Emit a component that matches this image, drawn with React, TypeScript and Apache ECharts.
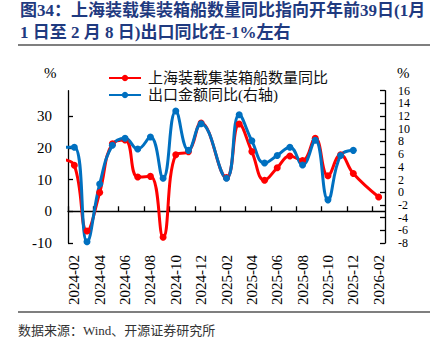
import React, { useEffect, useRef } from "react";
import * as echarts from "echarts";

// Months (2024-01 = index 0); nulls = not reported (Jan merged into Feb)
const months = [
  "2024-01", "2024-02", "2024-03", "2024-04", "2024-05", "2024-06", "2024-07", "2024-08", "2024-09", "2024-10", "2024-11", "2024-12",
  "2025-01", "2025-02", "2025-03", "2025-04", "2025-05", "2025-06", "2025-07", "2025-08", "2025-09", "2025-10", "2025-11", "2025-12",
  "2026-01", "2026-02",
];
// 上海装载集装箱船数量同比 (%, left axis)
const shipCountYoY = [
  16.3, 14.5, -6.2, 5.9, 21.3, 22.5, 10.8, 11.0, -8.2, 17.8, 18.8, 27.8,
  null, 10.6, 27.5, 18.8, 9.8, 13.7, 17.4, 16.0, 23.0, 11.2, 17.8, 11.9,
  null, 4.5,
];
// 出口金额同比 (%, right axis)
const exportYoY = [
  7.1, 7.1, -7.8, 1.3, 7.4, 8.5, 6.8, 8.7, 2.2, 12.8, 6.6, 10.8,
  null, 2.2, 12.2, 8.1, 4.6, 5.8, 7.1, 4.3, 8.2, -1.2, 5.8, 6.6,
  null, null,
];
const xTickLabels = [
  "2024-02", "2024-04", "2024-06", "2024-08", "2024-10", "2024-12",
  "2025-02", "2025-04", "2025-06", "2025-08", "2025-10", "2025-12", "2026-02",
];
const leftTicks = [-10, 0, 10, 20, 30];
const rightTicks = [-8, -6, -4, -2, 0, 2, 4, 6, 8, 10, 12, 14, 16];
const seriesNames = ["上海装载集装箱船数量同比", "出口金额同比(右轴)"];
const titleLines = [
  "图34：上海装载集装箱船数量同比指向开年前39日(1月",
  "1 日至 2 月 8 日)出口同比在-1%左右",
];
const sourceText = "数据来源：Wind、开源证券研究所";

const monthIndex = (s: string) => {
  const [y, m] = s.split("-").map(Number);
  return (y - 2024) * 12 + (m - 1);
};
const toPairs = (vals: (number | null)[]) =>
  months
    .map((m, i) => [monthIndex(m), vals[i]] as [number, number | null])
    .filter((p) => p[1] !== null);

const FONT = "'Liberation Serif', 'Noto Sans CJK SC', serif";
const X_MIN = 0.5;
const X_MAX = 25.5;

export default function App() {
  const ref = useRef<HTMLDivElement>(null);
  useEffect(() => {
    if (!ref.current) return;
    const chart = echarts.init(ref.current, null, { renderer: "svg" });
    const labelVals = xTickLabels.map(monthIndex);
    const tickVals = labelVals.map((v) => v - 0.5);
    const labelMap: Record<number, string> = {};
    xTickLabels.forEach((l) => (labelMap[monthIndex(l)] = l));
    const staticGraphics: any[] = [
      {
        type: "text",
        left: 20,
        top: 2,
        style: { text: titleLines[0], fontSize: 17, fontWeight: "bold", fill: "#1f3a80", fontFamily: FONT },
      },
      {
        type: "text",
        left: 20,
        top: 24,
        style: { text: titleLines[1], fontSize: 17, fontWeight: "bold", fill: "#1f3a80", fontFamily: FONT },
      },
      {
        type: "line",
        shape: { x1: 18, y1: 45, x2: 430, y2: 45 },
        style: { stroke: "#555", lineWidth: 1.5 },
      },
      {
        type: "text",
        left: 44,
        top: 65,
        style: { text: "%", fontSize: 15, fill: "#000", fontFamily: FONT },
      },
      {
        type: "text",
        left: 397,
        top: 65,
        style: { text: "%", fontSize: 15, fill: "#000", fontFamily: FONT },
      },
      {
        type: "line",
        shape: { x1: 18, y1: 312, x2: 430, y2: 312 },
        style: { stroke: "#555", lineWidth: 1.3 },
      },
      {
        type: "text",
        left: 18,
        top: 324,
        style: { text: sourceText, fontSize: 13, fill: "#333", fontFamily: FONT },
      },
    ];
    chart.setOption({
      animation: false,
      grid: { left: 68, right: 48, top: 90.7, bottom: 109 },
      legend: {
        orient: "vertical",
        left: 103,
        top: 65,
        itemWidth: 32,
        itemHeight: 8,
        itemGap: 1,
        textStyle: { fontSize: 15, fontFamily: FONT, color: "#111", lineHeight: 16, padding: [0, 0, 0, 2] },
        data: seriesNames,
      },
      xAxis: [
        {
          type: "value",
          min: X_MIN,
          max: X_MAX,
          position: "bottom",
          axisLine: { show: false, onZero: false },
          axisTick: { show: false },
          splitLine: { show: false },
          axisLabel: {
            customValues: labelVals,
            rotate: 90,
            margin: 12,
            fontSize: 15,
            fontFamily: FONT,
            color: "#000",
            formatter: (v: number) => labelMap[Math.round(v)] ?? "",
          },
        },
        {
          type: "value",
          min: X_MIN,
          max: X_MAX,
          position: "bottom",
          axisLine: { show: true, onZero: true, onZeroAxisIndex: 0, lineStyle: { color: "#000", width: 1.3 } },
          axisTick: { show: true, inside: true, length: 5, customValues: tickVals, lineStyle: { color: "#000", width: 1.3 } },
          axisLabel: { show: false },
          splitLine: { show: false },
        },
      ],
      yAxis: [
        {
          type: "value",
          min: -10,
          max: 38,
          position: "left",
          axisLine: { show: true, onZero: false, lineStyle: { color: "#000", width: 1.3 } },
          axisTick: { show: true, inside: true, length: 5, customValues: leftTicks, lineStyle: { color: "#000", width: 1.3 } },
          axisLabel: { customValues: leftTicks, fontSize: 15, margin: 16, fontFamily: FONT, color: "#000" },
          splitLine: { show: false },
        },
        {
          type: "value",
          min: -8,
          max: 16,
          interval: 2,
          position: "right",
          axisLine: { show: true, onZero: false, lineStyle: { color: "#000", width: 1.3 } },
          axisTick: { show: true, inside: true, length: 5, customValues: rightTicks, lineStyle: { color: "#000", width: 1.3 } },
          axisLabel: { show: false },
          splitLine: { show: false },
        },
      ],
      series: [
        {
          name: seriesNames[0],
          type: "line",
          xAxisIndex: 0,
          yAxisIndex: 0,
          data: toPairs(shipCountYoY),
          smooth: 0.45,
          connectNulls: true,
          symbol: "circle",
          symbolSize: 7,
          color: "#FF0000",
          lineStyle: { width: 3, color: "#FF0000" },
          itemStyle: { color: "#FF0000" },
        },
        {
          name: seriesNames[1],
          type: "line",
          xAxisIndex: 0,
          yAxisIndex: 1,
          data: toPairs(exportYoY),
          smooth: 0.45,
          connectNulls: true,
          symbol: "circle",
          symbolSize: 7,
          color: "#0070C0",
          lineStyle: { width: 3, color: "#0070C0" },
          itemStyle: { color: "#0070C0" },
        },
      ],
      graphic: staticGraphics,
    });
    // Right-axis tick labels, placed through the axis's own scale
    const rightLabels = rightTicks.map((v) => {
      const y = chart.convertToPixel({ yAxisIndex: 1 }, v) as number;
      return {
        type: "text",
        x: 398,
        y,
        style: {
          text: String(v),
          fontSize: 12,
          lineHeight: 11,
          fill: "#000",
          fontFamily: FONT,
          textAlign: "left",
          textVerticalAlign: "middle",
        },
      };
    });
    chart.setOption({ graphic: [...staticGraphics, ...rightLabels] });
    return () => chart.dispose();
  }, []);
  return <div ref={ref} style={{ width: 433, height: 352, position: "absolute", left: 0, top: 0 }} />;
}
